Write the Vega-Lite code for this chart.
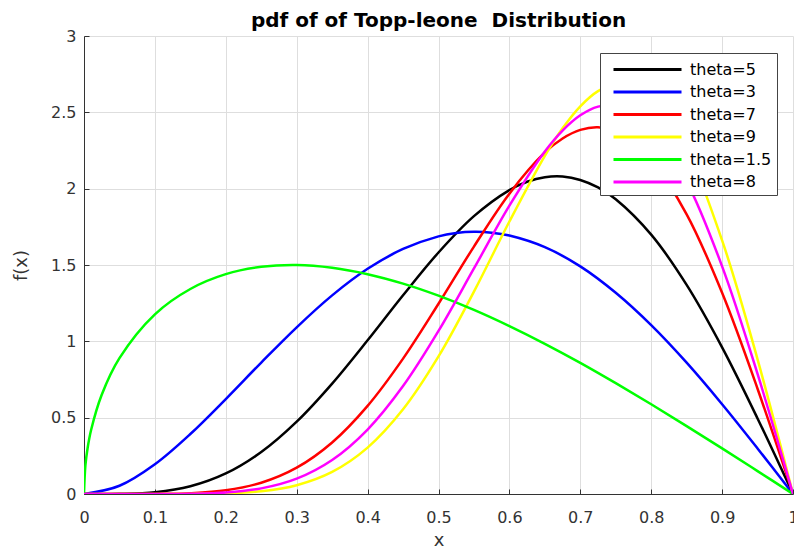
{
  "$schema": "https://vega.github.io/schema/vega-lite/v6.json",
  "width": 709,
  "height": 458,
  "autosize": {"type": "none"},
  "padding": {"left": 84, "top": 36, "right": 1, "bottom": 56},
  "background": "white",
  "title": {
    "text": "pdf of of Topp-leone\u00a0 Distribution",
    "font": "DejaVu Sans",
    "fontSize": 20,
    "fontWeight": "bold",
    "color": "#000000",
    "anchor": "middle",
    "offset": -3
  },
  "data": {
    "values": [
      {"x": 0, "y": 0, "s": "theta=5"},
      {"x": 0.05, "y": 0.0009, "s": "theta=5"},
      {"x": 0.1, "y": 0.0117, "s": "theta=5"},
      {"x": 0.15, "y": 0.0504, "s": "theta=5"},
      {"x": 0.2, "y": 0.1344, "s": "theta=5"},
      {"x": 0.25, "y": 0.2748, "s": "theta=5"},
      {"x": 0.3, "y": 0.4736, "s": "theta=5"},
      {"x": 0.35, "y": 0.723, "s": "theta=5"},
      {"x": 0.4, "y": 1.0066, "s": "theta=5"},
      {"x": 0.45, "y": 1.3018, "s": "theta=5"},
      {"x": 0.5, "y": 1.582, "s": "theta=5"},
      {"x": 0.55, "y": 1.82, "s": "theta=5"},
      {"x": 0.6, "y": 1.991, "s": "theta=5"},
      {"x": 0.625, "y": 2.0454, "s": "theta=5"},
      {"x": 0.65, "y": 2.075, "s": "theta=5"},
      {"x": 0.675, "y": 2.0795, "s": "theta=5"},
      {"x": 0.7, "y": 2.057, "s": "theta=5"},
      {"x": 0.725, "y": 2.0078, "s": "theta=5"},
      {"x": 0.75, "y": 1.931, "s": "theta=5"},
      {"x": 0.8, "y": 1.699, "s": "theta=5"},
      {"x": 0.85, "y": 1.3695, "s": "theta=5"},
      {"x": 0.9, "y": 0.9606, "s": "theta=5"},
      {"x": 0.95, "y": 0.495, "s": "theta=5"},
      {"x": 1, "y": 0, "s": "theta=5"},

      {"x": 0, "y": 0, "s": "theta=3"},
      {"x": 0.05, "y": 0.0542, "s": "theta=3"},
      {"x": 0.1, "y": 0.195, "s": "theta=3"},
      {"x": 0.15, "y": 0.393, "s": "theta=3"},
      {"x": 0.2, "y": 0.622, "s": "theta=3"},
      {"x": 0.25, "y": 0.861, "s": "theta=3"},
      {"x": 0.3, "y": 1.092, "s": "theta=3"},
      {"x": 0.35, "y": 1.301, "s": "theta=3"},
      {"x": 0.4, "y": 1.475, "s": "theta=3"},
      {"x": 0.45, "y": 1.605, "s": "theta=3"},
      {"x": 0.5, "y": 1.6875, "s": "theta=3"},
      {"x": 0.525, "y": 1.709, "s": "theta=3"},
      {"x": 0.55, "y": 1.717, "s": "theta=3"},
      {"x": 0.575, "y": 1.712, "s": "theta=3"},
      {"x": 0.6, "y": 1.693, "s": "theta=3"},
      {"x": 0.65, "y": 1.617, "s": "theta=3"},
      {"x": 0.7, "y": 1.491, "s": "theta=3"},
      {"x": 0.75, "y": 1.318, "s": "theta=3"},
      {"x": 0.8, "y": 1.106, "s": "theta=3"},
      {"x": 0.85, "y": 0.86, "s": "theta=3"},
      {"x": 0.9, "y": 0.588, "s": "theta=3"},
      {"x": 0.95, "y": 0.2985, "s": "theta=3"},
      {"x": 1, "y": 0, "s": "theta=3"},

      {"x": 0, "y": 0, "s": "theta=7"},
      {"x": 0.05, "y": 0, "s": "theta=7"},
      {"x": 0.1, "y": 0.0006, "s": "theta=7"},
      {"x": 0.15, "y": 0.0054, "s": "theta=7"},
      {"x": 0.2, "y": 0.0244, "s": "theta=7"},
      {"x": 0.25, "y": 0.0736, "s": "theta=7"},
      {"x": 0.3, "y": 0.1724, "s": "theta=7"},
      {"x": 0.35, "y": 0.3376, "s": "theta=7"},
      {"x": 0.4, "y": 0.5772, "s": "theta=7"},
      {"x": 0.45, "y": 0.8867, "s": "theta=7"},
      {"x": 0.5, "y": 1.2459, "s": "theta=7"},
      {"x": 0.55, "y": 1.6208, "s": "theta=7"},
      {"x": 0.6, "y": 1.9673, "s": "theta=7"},
      {"x": 0.65, "y": 2.2371, "s": "theta=7"},
      {"x": 0.675, "y": 2.3288, "s": "theta=7"},
      {"x": 0.7, "y": 2.3851, "s": "theta=7"},
      {"x": 0.725, "y": 2.4019, "s": "theta=7"},
      {"x": 0.75, "y": 2.3763, "s": "theta=7"},
      {"x": 0.775, "y": 2.3064, "s": "theta=7"},
      {"x": 0.8, "y": 2.1917, "s": "theta=7"},
      {"x": 0.85, "y": 1.832, "s": "theta=7"},
      {"x": 0.9, "y": 1.318, "s": "theta=7"},
      {"x": 0.95, "y": 0.6896, "s": "theta=7"},
      {"x": 1, "y": 0, "s": "theta=7"},

      {"x": 0, "y": 0, "s": "theta=9"},
      {"x": 0.05, "y": 0, "s": "theta=9"},
      {"x": 0.1, "y": 0, "s": "theta=9"},
      {"x": 0.15, "y": 0.0005, "s": "theta=9"},
      {"x": 0.2, "y": 0.0041, "s": "theta=9"},
      {"x": 0.25, "y": 0.0181, "s": "theta=9"},
      {"x": 0.3, "y": 0.0577, "s": "theta=9"},
      {"x": 0.35, "y": 0.1448, "s": "theta=9"},
      {"x": 0.4, "y": 0.304, "s": "theta=9"},
      {"x": 0.45, "y": 0.5546, "s": "theta=9"},
      {"x": 0.5, "y": 0.901, "s": "theta=9"},
      {"x": 0.55, "y": 1.3254, "s": "theta=9"},
      {"x": 0.6, "y": 1.7847, "s": "theta=9"},
      {"x": 0.65, "y": 2.2148, "s": "theta=9"},
      {"x": 0.675, "y": 2.3951, "s": "theta=9"},
      {"x": 0.7, "y": 2.5394, "s": "theta=9"},
      {"x": 0.725, "y": 2.6387, "s": "theta=9"},
      {"x": 0.75, "y": 2.6853, "s": "theta=9"},
      {"x": 0.775, "y": 2.6727, "s": "theta=9"},
      {"x": 0.8, "y": 2.597, "s": "theta=9"},
      {"x": 0.85, "y": 2.2506, "s": "theta=9"},
      {"x": 0.9, "y": 1.661, "s": "theta=9"},
      {"x": 0.95, "y": 0.8822, "s": "theta=9"},
      {"x": 1, "y": 0, "s": "theta=9"},

      {"x": 0, "y": 0, "s": "theta=1.5"},
      {"x": 0.002, "y": 0.189, "s": "theta=1.5"},
      {"x": 0.005, "y": 0.298, "s": "theta=1.5"},
      {"x": 0.01, "y": 0.419, "s": "theta=1.5"},
      {"x": 0.025, "y": 0.65, "s": "theta=1.5"},
      {"x": 0.05, "y": 0.89, "s": "theta=1.5"},
      {"x": 0.1, "y": 1.177, "s": "theta=1.5"},
      {"x": 0.15, "y": 1.343, "s": "theta=1.5"},
      {"x": 0.2, "y": 1.44, "s": "theta=1.5"},
      {"x": 0.25, "y": 1.488, "s": "theta=1.5"},
      {"x": 0.3, "y": 1.5, "s": "theta=1.5"},
      {"x": 0.35, "y": 1.482, "s": "theta=1.5"},
      {"x": 0.4, "y": 1.44, "s": "theta=1.5"},
      {"x": 0.45, "y": 1.378, "s": "theta=1.5"},
      {"x": 0.5, "y": 1.299, "s": "theta=1.5"},
      {"x": 0.55, "y": 1.206, "s": "theta=1.5"},
      {"x": 0.6, "y": 1.1, "s": "theta=1.5"},
      {"x": 0.65, "y": 0.984, "s": "theta=1.5"},
      {"x": 0.7, "y": 0.859, "s": "theta=1.5"},
      {"x": 0.75, "y": 0.726, "s": "theta=1.5"},
      {"x": 0.8, "y": 0.588, "s": "theta=1.5"},
      {"x": 0.85, "y": 0.445, "s": "theta=1.5"},
      {"x": 0.9, "y": 0.299, "s": "theta=1.5"},
      {"x": 0.95, "y": 0.15, "s": "theta=1.5"},
      {"x": 1, "y": 0, "s": "theta=1.5"},

      {"x": 0, "y": 0, "s": "theta=8"},
      {"x": 0.05, "y": 0, "s": "theta=8"},
      {"x": 0.1, "y": 0.0001, "s": "theta=8"},
      {"x": 0.15, "y": 0.0017, "s": "theta=8"},
      {"x": 0.2, "y": 0.01, "s": "theta=8"},
      {"x": 0.25, "y": 0.0368, "s": "theta=8"},
      {"x": 0.3, "y": 0.1005, "s": "theta=8"},
      {"x": 0.35, "y": 0.2228, "s": "theta=8"},
      {"x": 0.4, "y": 0.4222, "s": "theta=8"},
      {"x": 0.45, "y": 0.7068, "s": "theta=8"},
      {"x": 0.5, "y": 1.0679, "s": "theta=8"},
      {"x": 0.55, "y": 1.4772, "s": "theta=8"},
      {"x": 0.6, "y": 1.8886, "s": "theta=8"},
      {"x": 0.65, "y": 2.2435, "s": "theta=8"},
      {"x": 0.675, "y": 2.3804, "s": "theta=8"},
      {"x": 0.7, "y": 2.4804, "s": "theta=8"},
      {"x": 0.725, "y": 2.5374, "s": "theta=8"},
      {"x": 0.75, "y": 2.546, "s": "theta=8"},
      {"x": 0.775, "y": 2.5024, "s": "theta=8"},
      {"x": 0.8, "y": 2.4046, "s": "theta=8"},
      {"x": 0.85, "y": 2.0466, "s": "theta=8"},
      {"x": 0.9, "y": 1.4913, "s": "theta=8"},
      {"x": 0.95, "y": 0.7861, "s": "theta=8"},
      {"x": 1, "y": 0, "s": "theta=8"}
    ]
  },
  "mark": {"type": "line", "strokeWidth": 2.5, "interpolate": "catmull-rom", "clip": true},
  "encoding": {
    "x": {
      "field": "x",
      "type": "quantitative",
      "scale": {"domain": [0, 1], "nice": false, "zero": false},
      "axis": {
        "title": "x",
        "values": [0, 0.1, 0.2, 0.3, 0.4, 0.5, 0.6, 0.7, 0.8, 0.9, 1],
        "format": "~g",
        "labelPadding": 20,
        "titlePadding": 6
      }
    },
    "y": {
      "field": "y",
      "type": "quantitative",
      "scale": {"domain": [0, 3], "nice": false},
      "axis": {
        "title": "f(x)",
        "values": [0, 0.5, 1, 1.5, 2, 2.5, 3],
        "format": "~g",
        "labelPadding": 13,
        "titlePadding": 20
      }
    },
    "color": {
      "field": "s",
      "type": "nominal",
      "sort": ["theta=5", "theta=3", "theta=7", "theta=9", "theta=1.5", "theta=8"],
      "scale": {
        "domain": ["theta=5", "theta=3", "theta=7", "theta=9", "theta=1.5", "theta=8"],
        "range": ["#000000", "#0000ff", "#ff0000", "#ffff00", "#00ff00", "#ff00ff"]
      },
      "legend": {
        "title": null,
        "orient": "none",
        "legendX": 516,
        "legendY": 17,
        "symbolType": "M-3.4,0H3.4",
        "symbolSize": 400,
        "symbolStrokeWidth": 3,
        "symbolOffset": 31,
        "labelOffset": 31,
        "labelFont": "DejaVu Sans",
        "labelFontSize": 16,
        "labelColor": "#000000",
        "rowPadding": 2.5,
        "padding": 5,
        "strokeColor": "#444444",
        "fillColor": "#ffffff"
      }
    }
  },
  "config": {
    "view": {"stroke": null},
    "axis": {
      "labelFont": "DejaVu Sans",
      "labelFontSize": 16,
      "labelColor": "#333333",
      "titleFont": "DejaVu Sans",
      "titleFontSize": 18,
      "titleFontWeight": "normal",
      "titleColor": "#333333",
      "domainColor": "#333333",
      "domainWidth": 1,
      "tickColor": "#333333",
      "tickSize": -5,
      "gridColor": "#dedede",
      "gridWidth": 1,
      "labelFlush": false
    }
  }
}
